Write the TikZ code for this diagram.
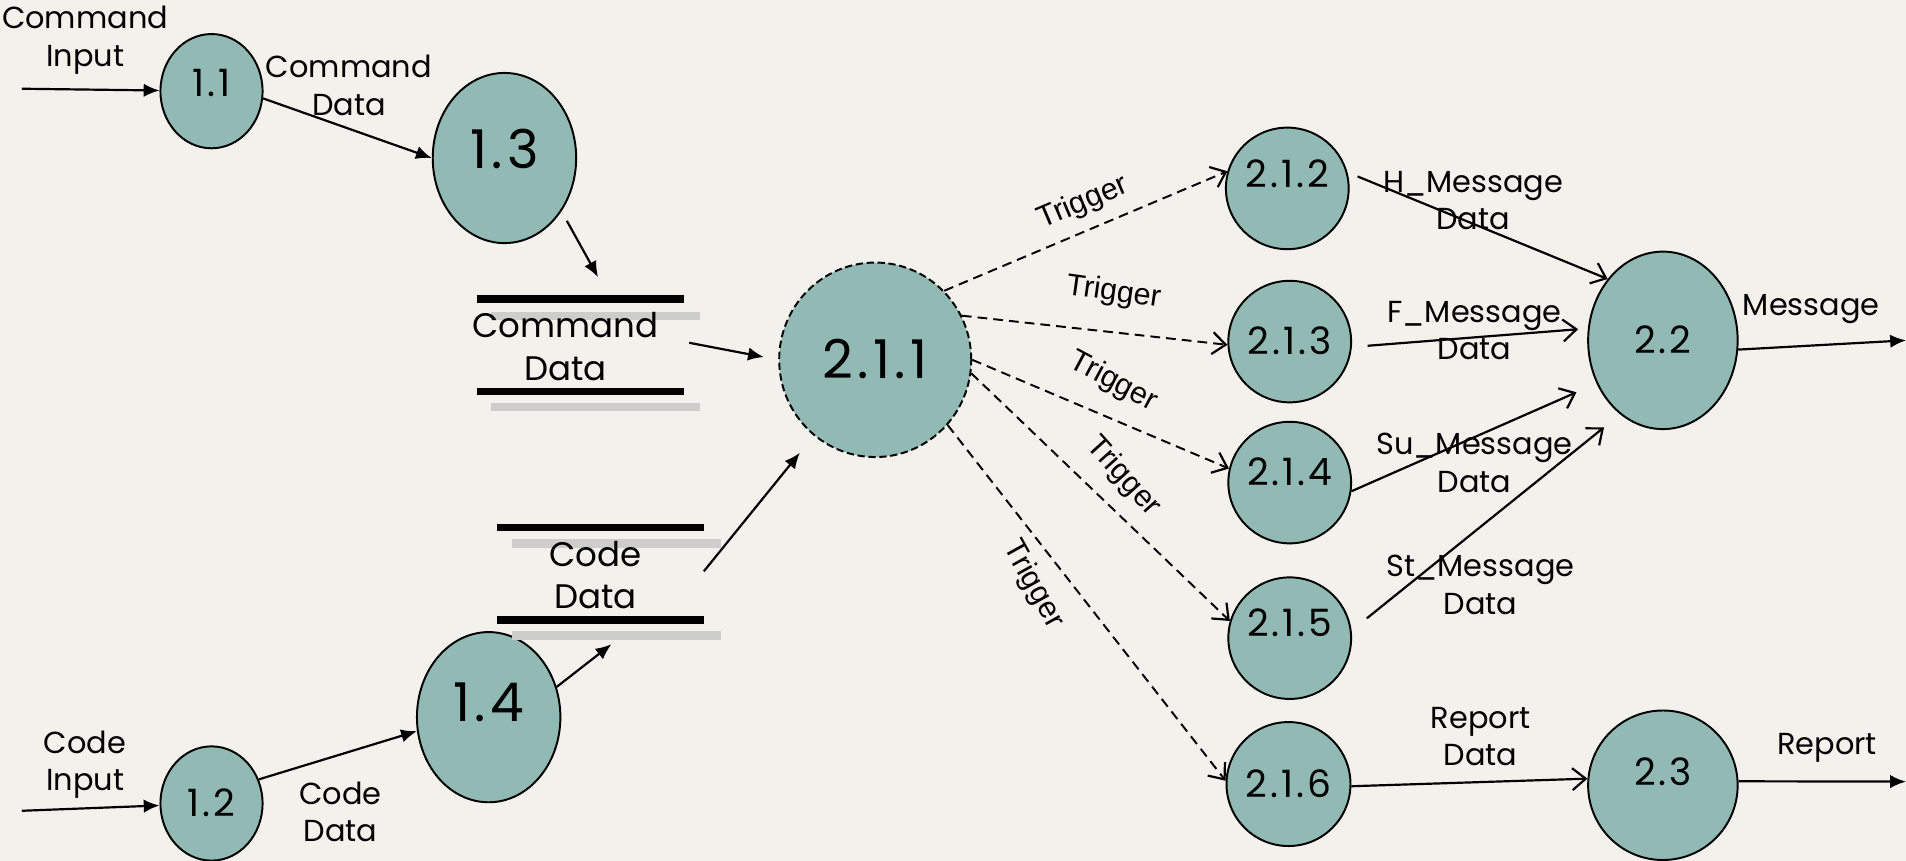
\documentclass[tikz,border=0pt]{standalone}
\usepackage{fontspec}
\setmainfont{Poppins}
\newfontfamily\trigfont{Liberation Sans}
\newfontfamily\numfont[LetterSpace=8]{Poppins}
\usetikzlibrary{shapes.geometric,arrows.meta,calc}
\definecolor{procfill}{HTML}{91BAB5}
\definecolor{paper}{HTML}{F2F1EC}
\definecolor{barshade}{HTML}{CDCDCB}

\begin{document}
\begin{tikzpicture}[x=1pt,y=-1pt,
  proc/.style={ellipse, draw=black, line width=1.6pt, fill=procfill, inner sep=0pt,
    text height=22pt, text depth=0pt, font=\numfont\fontsize{31}{31}\selectfont},
  bigproc/.style={proc, text height=31pt, font=\numfont\fontsize{44}{44}\selectfont},
  raise/.style={text depth=#1},
  lbl/.style={align=center, inner sep=0pt, font=\fontsize{25}{31}\selectfont},
  storetext/.style={align=center, inner sep=0pt, font=\fontsize{28}{35}\selectfont},
  trig/.style={inner sep=0pt, font=\trigfont\fontsize{25}{25}\selectfont},
  fa/.style={line width=1.8pt, -{Latex[length=13pt,width=11pt]}},
  oa/.style={line width=1.8pt, -{Straight Barb[length=11pt,width=18pt,line width=1.8pt]}},
  trg/.style={oa, line width=1.6pt, dash pattern=on 8pt off 5pt},
  blackbar/.style={line width=6pt, black},
  greybar/.style={line width=7pt, barshade}
]
% paper background
\fill[paper] (0,0) rectangle (1568,708);
\useasboundingbox (0,0) rectangle (1568,708);

% processes
\node[proc, minimum width=84pt, minimum height=94pt, raise=14pt] (n11) at (174,75) {1.1};
\node[proc, minimum width=84pt, minimum height=94pt] (n12) at (174,661) {1.2};
\node[bigproc, minimum width=118pt, minimum height=140pt, raise=14pt] (n13) at (415,130) {1.3};
\node[bigproc, minimum width=118pt, minimum height=140pt, raise=24pt] (n14) at (402,590) {1.4};
\node[bigproc, minimum width=158pt, minimum height=160pt, dashed, dash pattern=on 6pt off 3pt] (n211) at (720,296) {2.1.1};
\node[proc, minimum width=101pt, minimum height=100pt, raise=24pt] (n212) at (1059,155) {2.1.2};
\node[proc, minimum width=101pt, minimum height=100pt] (n213) at (1061,281) {2.1.3};
\node[proc, minimum width=101pt, minimum height=100pt, raise=18pt] (n214) at (1061,397) {2.1.4};
\node[proc, minimum width=101pt, minimum height=100pt, raise=24pt] (n215) at (1061,525) {2.1.5};
\node[proc, minimum width=102pt, minimum height=102pt] (n216) at (1060,645) {2.1.6};
\node[proc, minimum width=123pt, minimum height=146pt] (n22) at (1368,280) {2.2};
\node[proc, minimum width=123pt, minimum height=123pt, raise=22pt] (n23) at (1368,646) {2.3};

% data stores: shaded and black rules first, the name on top
\coordinate (cmdstorec) at (465,285);
\draw[greybar] ($(cmdstorec)+(-61,-25)$) -- ++(172,0);
\draw[greybar] ($(cmdstorec)+(-61,50)$) -- ++(172,0);
\draw[blackbar] ($(cmdstorec)+(-73,-39)$) -- ++(171,0);
\draw[blackbar] ($(cmdstorec)+(-73,37)$) -- ++(171,0);
\node[storetext] (cmdstore) at (cmdstorec) {Command\\Data};

\coordinate (codestorec) at (490,473);
\draw[greybar] ($(codestorec)+(-69,-26)$) -- ++(172,0);
\draw[greybar] ($(codestorec)+(-69,50)$) -- ++(172,0);
\draw[blackbar] ($(codestorec)+(-81,-39)$) -- ++(170,0);
\draw[blackbar] ($(codestorec)+(-81,37)$) -- ++(170,0);
\node[storetext] (codestore) at (codestorec) {Code\\Data};

% free ends of flows
\coordinate (cmdin) at (18,73);
\coordinate (codein) at (18,667);
\coordinate (cmdstoretop) at (492,228);
\coordinate (cmdstoreout) at (567,282);
\coordinate (codestorebot) at (503,530);
\coordinate (codestoreout) at (579,470);
\coordinate (msgout) at (1568,280);
\coordinate (rptout) at (1568,643);

% flows into and out of the stores
\draw[fa] (cmdin) -- (n11);
\draw[fa] (n11.-8) -- (n13.west);
\draw[fa, shorten <=9pt] (n13.-43) -- (cmdstoretop);
\draw[fa, shorten >=12pt] (cmdstoreout) -- (n211.west);
\draw[fa] (codein) -- (n12);
\draw[fa] (n12.27) -- (n14.191);
\draw[fa] (n14.24) -- (codestorebot);
\draw[fa, shorten >=18pt] (codestoreout) -- (n211);

% triggers
\draw[trg] (n211.45) -- (n212.164);
\draw[trg] (n211.27) -- (n213.183);
\draw[trg] (n211.0) -- (n214.167);
\draw[trg] (n211.-8) -- (n215.164);
\draw[trg] (n211.-42) -- (n216.177);

% message flows
\draw[oa, shorten <=9pt] (n212.15) -- (n22.132);
\draw[oa, shorten <=13pt, shorten >=8pt] (n213.-5) -- (n22.171);
\draw[oa, shorten >=18pt] (n214.-8) -- (n22.213);
\draw[oa, shorten <=16pt, shorten >=17pt] (n215.7) -- (n22.240);
\draw[fa] (n22.-7) -- (msgout);
\draw[oa] (n216.-2) -- (n23.175);
\draw[fa] (n23.3) -- (rptout);

% flow labels
\node[lbl] (lcmdin) at (70,33) {Command\\Input};
\node[lbl] (lcmddata) at (287,70) {Command\\Data};
\node[lbl] (lcodein) at (70,629) {Code\\Input};
\node[lbl] (lcodedata) at (280,668) {Code\\Data};
\node[lbl] (lh) at (1212,165) {H\_Message\\Data};
\node[lbl] (lf) at (1213,272) {F\_Message\\Data};
\node[lbl] (lsu) at (1213,381) {Su\_Message\\Data};
\node[lbl] (lst) at (1218,481) {St\_Message\\Data};
\node[lbl] (lmsg) at (1490,254) {Message};
\node[lbl] (lrd) at (1218,606) {Report\\Data};
\node[lbl] (lrpt) at (1503,615) {Report};

\node[trig, rotate=23] (t1) at (891,167) {Trigger};
\node[trig, rotate=-8] (t2) at (916,241) {Trigger};
\node[trig, rotate=-28] (t3) at (916,314) {Trigger};
\node[trig, rotate=-48] (t4) at (924,392) {Trigger};
\node[trig, rotate=-61] (t5) at (850,481) {Trigger};
\end{tikzpicture}
\end{document}
